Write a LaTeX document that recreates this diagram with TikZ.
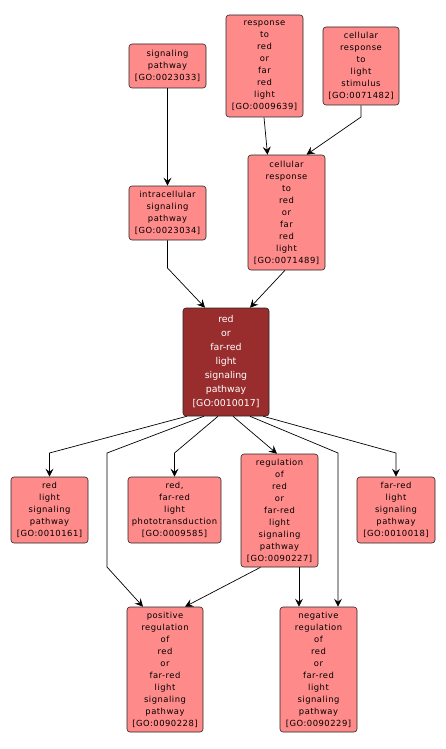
\documentclass[tikz,border=0pt]{standalone}
\usepackage{fontspec}
\setmainfont{DejaVu Sans}
\newfontfamily\gofont[LetterSpace=6]{DejaVu Sans}
\usetikzlibrary{arrows.meta}
\definecolor{gofill}{RGB}{255,138,138}
\definecolor{mainfill}{RGB}{153,45,45}
\tikzset{
  goterm/.style={draw=black!85, line width=0.6pt, fill=gofill, rounded corners=3pt,
    align=center, inner sep=0pt, font=\gofont\fontsize{8.4}{12}\selectfont},
  mainterm/.style={draw=black!85, line width=0.6pt, fill=mainfill, rounded corners=3pt,
    align=center, inner sep=0pt, text=white, font=\fontsize{9.4}{14}\selectfont},
  arr/.style={draw=black, line width=0.7pt, -{Stealth[length=8pt,width=8pt,inset=3pt]}}
}
\begin{document}
\begin{tikzpicture}[x=1pt,y=-1pt]
\useasboundingbox (0,0) rectangle (445,749);
% top level
\node[goterm, minimum width=77, minimum height=44] (n23033) at (167.5,66) {signaling\\pathway\\{[GO:0023033]}};
\node[goterm, minimum width=77, minimum height=102] (n9639) at (264.5,66) {response\\to\\red\\or\\far\\red\\light\\{[GO:0009639]}};
\node[goterm, minimum width=76, minimum height=78] (n71482) at (361,66) {cellular\\response\\to\\light\\stimulus\\{[GO:0071482]}};
\node[goterm, minimum width=77, minimum height=54] (n23034) at (167.5,213) {intracellular\\signaling\\pathway\\{[GO:0023034]}};
\node[goterm, minimum width=77, minimum height=115] (n71489) at (286.5,212.5) {cellular\\response\\to\\red\\or\\far\\red\\light\\{[GO:0071489]}};
\node[mainterm, minimum width=86, minimum height=108] (main) at (226,362) {red\\or\\far-red\\light\\signaling\\pathway\\{[GO:0010017]}};
\node[goterm, minimum width=77, minimum height=66] (n10161) at (49.5,510) {red\\light\\signaling\\pathway\\{[GO:0010161]}};
\node[goterm, minimum width=93, minimum height=66] (n9585) at (174.5,510) {red,\\far-red\\light\\phototransduction\\{[GO:0009585]}};
\node[goterm, minimum width=77, minimum height=113] (n90227) at (279.5,510.5) {regulation\\of\\red\\or\\far-red\\light\\signaling\\pathway\\{[GO:0090227]}};
\node[goterm, minimum width=78, minimum height=66] (n10018) at (396,510) {far-red\\light\\signaling\\pathway\\{[GO:0010018]}};
\node[goterm, minimum width=76, minimum height=125] (n90228) at (165,669.5) {positive\\regulation\\of\\red\\or\\far-red\\light\\signaling\\pathway\\{[GO:0090228]}};
\node[goterm, minimum width=77, minimum height=125] (n90229) at (318.5,669.5) {negative\\regulation\\of\\red\\or\\far-red\\light\\signaling\\pathway\\{[GO:0090229]}};
% edges
\draw[arr] (n23033.south) -- (n23034.north);
\draw[arr] ([xshift=-0.5pt]n9639.south) -- ([xshift=-19pt]n71489.north);
\draw[arr] (n71482.south) -- (361,117) -- ([xshift=20pt]n71489.north);
\draw[arr] (n23034.south) -- (167.5,268) -- ([xshift=-21pt]main.north);
\draw[arr] ([xshift=-1.5pt]n71489.south) -- ([xshift=24pt]main.north);
\draw[arr] ([xshift=4pt]main.south west) -- (49.5,453) -- (n10161.north);
\draw[arr] ([xshift=21pt]main.south west) -- (107,453) -- (107,567) -- ([xshift=-22pt]n90228.north);
\draw[arr] ([xshift=-8pt]main.south) -- (174.5,453) -- (n9585.north);
\draw[arr] ([xshift=7pt]main.south) -- ([xshift=-2.5pt]n90227.north);
\draw[arr] ([xshift=24pt]main.south) -- (338,453) -- ([xshift=19.5pt]n90229.north);
\draw[arr] ([xshift=-6pt]main.south east) -- (396,453) -- (n10018.north);
\draw[arr] ([xshift=-19pt]n90227.south) -- ([xshift=20pt]n90228.north);
\draw[arr] ([xshift=19.5pt]n90227.south) -- ([xshift=-19.5pt]n90229.north);
\end{tikzpicture}
\end{document}
